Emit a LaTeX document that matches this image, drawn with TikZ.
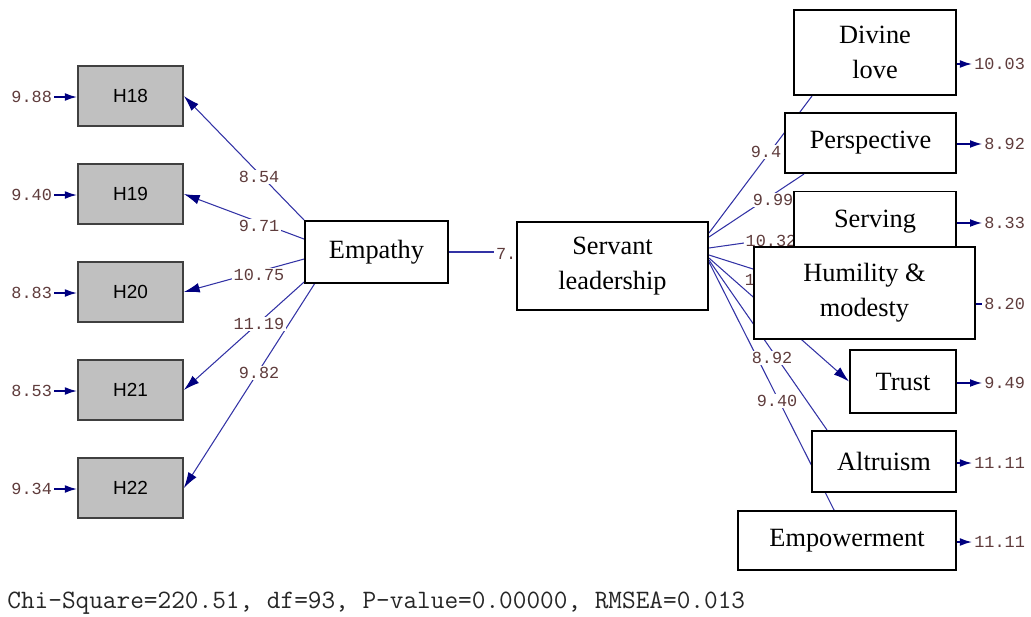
\documentclass[tikz,border=0pt]{standalone}
\usepackage{fontspec}
\setmainfont{Liberation Serif}
\setsansfont{Liberation Sans}
\newfontfamily\valfont{Liberation Mono}
\usetikzlibrary{arrows.meta,calc}

\pgfdeclarelayer{paths}
\pgfdeclarelayer{values}
\pgfsetlayers{paths,values,main}

\definecolor{pathblue}{RGB}{50,50,165}
\definecolor{tipblue}{RGB}{0,0,128}
\definecolor{valcol}{RGB}{95,60,60}
\definecolor{obsgray}{RGB}{192,192,192}

\tikzset{
    latent/.style={draw, line width=1.1pt, fill=white, align=center, font=\fontsize{15}{20}\selectfont},
    obsbox/.style={draw=black!75, line width=1pt, fill=obsgray, minimum width=2.1cm, minimum height=1.2cm, font=\sffamily\fontsize{10.8}{13}\selectfont},
    loadline/.style={pathblue, line width=0.6pt},
    loadarrow/.style={loadline, -{Latex[length=9pt,width=5.5pt,color=tipblue]}},
    value/.style={font=\valfont\fontsize{9.6}{11}\selectfont, text=valcol, fill=white, inner sep=1pt},
    errval/.style={font=\valfont\fontsize{9.6}{11}\selectfont, text=valcol, inner sep=1pt},
    errarrow/.style={tipblue, line width=1pt, -{Latex[length=7pt,width=4.5pt]}}
}

\begin{document}
\begin{tikzpicture}[x=0.02cm, y=-0.02cm]
\useasboundingbox (0,0) rectangle (1031,616);

% latent variables
\node[latent, minimum width=2.86cm, minimum height=1.24cm] (emp) at (376.5,252) {Empathy};
\node[latent, minimum width=3.82cm, minimum height=1.76cm] (sl) at (612.5,266) {Servant\\leadership};

% empathy items
\foreach \n/\err/\dx/\dy/\v/\vy [count=\k from 0] in {18/9.88/0/0/8.54/177, 19/9.40/0/19/9.71/226, 20/8.83/0/39/10.75/275, 21/8.53/0/62/11.19/324, 22/9.34/11/63/9.82/373}
    {
    \node[obsbox] (h\n) at (130.5, 96+98*\k) {H\n};
    \node[errval, anchor=east] (eh\n) at (54, 97+98*\k) {\err};
    \draw[errarrow] (eh\n.east) -- (eh\n.east -| h\n.west);
    \begin{pgfonlayer}{paths}
        \draw[loadarrow] ($(emp.north west)+(\dx,\dy)$) -- (h\n.east);
    \end{pgfonlayer}
    \begin{pgfonlayer}{values}
        \node[value] (vh\n) at (259,\vy) {\v};
    \end{pgfonlayer}
    }

% servant leadership dimensions
\node[latent, minimum width=3.24cm, minimum height=1.7cm] (dl) at (875,52.5) {Divine\\love};
\node[latent, minimum width=3.42cm, minimum height=1.2cm] (pv) at (870.5,143) {Perspective};
\node[latent, minimum width=3.24cm, minimum height=1.22cm] (sv) at (875,222) {Serving};
\node[latent, minimum width=4.42cm, minimum height=1.84cm] (hm) at (864.5,293) {Humility \&\\modesty};
\node[latent, minimum width=2.12cm, minimum height=1.26cm] (tr) at (903,381.5) {Trust};
\node[latent, minimum width=2.88cm, minimum height=1.22cm] (al) at (884,461.5) {Altruism};
\node[latent, minimum width=4.36cm, minimum height=1.18cm] (em) at (847,540.5) {Empowerment};

\foreach \b/\err/\y in {dl/10.03/64, pv/8.92/144, sv/8.33/223, tr/9.49/383, al/11.11/463, em/11.11/542}
    {
    \node[errval, anchor=east] (e\b) at (1027,\y) {\err};
    \draw[errarrow] (\b.east |- e\b.west) -- (e\b.west);
    }
\node[errval, anchor=east] (ehm) at (1027,304) {8.20};
\draw[tipblue, line width=0.8pt] (hm.east |- ehm.west) -- (ehm.west);

\begin{pgfonlayer}{paths}
    \draw[loadline] (emp.east) -- (emp.east -| sl.west);
    \draw[loadline] ($(sl.east)+(0,-33)$) -- ($(dl.south west)+(19,0)$);
    \draw[loadline] ($(sl.east)+(0,-29)$) -- ($(pv.south west)+(20,0)$);
    \draw[loadline] ($(sl.east)+(0,-18)$) -- ($(sv.west)+(0,14)$);
    \draw[loadline] ($(sl.east)+(0,-11)$) -- ($(hm.west)+(0,-24)$);
    \draw[loadarrow] ($(sl.east)+(0,-8)$) -- (tr.west);
    \draw[loadline] ($(sl.east)+(0,-4)$) -- ($(em.north west)+(97,0)$);
    \draw[loadline] ($(sl.east)+(0,-6)$) -- ($(al.north west)+(16,0)$);
\end{pgfonlayer}

\begin{pgfonlayer}{values}
    \node[value, anchor=west] (v7) at (494,254) {7.};
    \node[value] (vdl) at (766,152) {9.4};
    \node[value] (vpv) at (773,200) {9.99};
    \node[value] (vsv) at (771,241) {10.32};
    \node[value] (vhm) at (750,280) {1};
    \node[value] (val) at (772,358) {8.92};
    \node[value] (vem) at (777,401) {9.40};
\end{pgfonlayer}

% fit indices
\node[anchor=west, inner sep=0pt, font=\ttfamily\fontsize{15.1}{17}\selectfont, text=black!85] (fit) at (7,603) {Chi-Square=220.51, df=93, P-value=0.00000, RMSEA=0.013};
\end{tikzpicture}
\end{document}
